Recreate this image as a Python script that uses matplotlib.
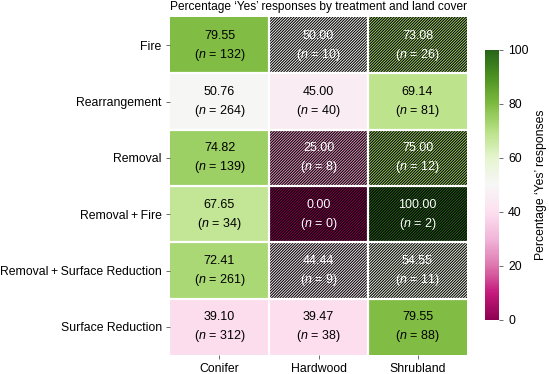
import numpy as np
import matplotlib
matplotlib.use("Agg")
import matplotlib.pyplot as plt
from matplotlib.patches import Rectangle

plt.rcParams['font.family'] = ['Liberation Sans', 'DejaVu Sans']
plt.rcParams['mathtext.fontset'] = 'custom'
plt.rcParams['mathtext.it'] = 'Liberation Sans:italic'
plt.rcParams['mathtext.rm'] = 'Liberation Sans'
plt.rcParams['hatch.linewidth'] = 0.75

treatments = ["Fire", "Rearrangement", "Removal", "Removal\u2009+\u2009Fire",
              "Removal\u2009+\u2009Surface Reduction", "Surface Reduction"]
covers = ["Conifer", "Hardwood", "Shrubland"]
pct = [
    [79.55, 50.00, 73.08],
    [50.76, 45.00, 69.14],
    [74.82, 25.00, 75.00],
    [67.65, 0.00, 100.00],
    [72.41, 44.44, 54.55],
    [39.10, 39.47, 79.55],
]
counts = [
    [132, 10, 26],
    [264, 40, 81],
    [139, 8, 12],
    [34, 0, 2],
    [261, 9, 11],
    [312, 38, 88],
]
small_n = 30

V = np.array(pct)
N = np.array(counts)
nr, nc = V.shape

fig = plt.figure(figsize=(5.49, 3.74), dpi=100)
ax = fig.add_axes([170/549, 1-355/374, 297/549, 338/374])
cax = fig.add_axes([485/549, 1-320/374, 14/549, 270/374])

mesh = ax.pcolormesh(np.arange(nc+1), np.arange(nr+1), V, cmap='PiYG', vmin=0, vmax=100)
ax.set_xlim(0, nc)
ax.set_ylim(nr, 0)

for i in range(nr):
    for j in range(nc):
        hatched = N[i, j] < small_n
        if hatched:
            ax.add_patch(Rectangle((j, i), 1, 1, facecolor='none', edgecolor='black',
                                   hatch='/' * 12, linewidth=0, zorder=2))
        col = 'white' if hatched else 'black'
        ax.text(j + 0.5, i + 0.5 - 0.17, f"{V[i, j]:.2f}", ha='center', va='center',
                fontsize=9, color=col, zorder=4)
        ax.text(j + 0.5, i + 0.5 + 0.17, r"($\it{n}$ = %d)" % N[i, j], ha='center', va='center',
                fontsize=9, color=col, zorder=4)

for k in range(1, nr):
    ax.axhline(k, color='white', lw=1.6, zorder=3)
for k in range(1, nc):
    ax.axvline(k, color='white', lw=1.6, zorder=3)

ax.set_xticks(np.arange(nc) + 0.5)
ax.set_xticklabels(covers, fontsize=8.8)
ax.set_yticks(np.arange(nr) + 0.5)
ax.set_yticklabels(treatments, fontsize=8.8)
ax.tick_params(length=3, width=0.6, color='#555555', pad=3)
for s in ax.spines.values():
    s.set_visible(False)
ax.set_title("Percentage \u2018Yes\u2019 responses by treatment and land cover", fontsize=8.6, pad=5)

cb = fig.colorbar(mesh, cax=cax)
cb.outline.set_visible(False)
cb.set_ticks([0, 20, 40, 60, 80, 100])
cb.ax.tick_params(labelsize=8.8, length=3, width=0.6, color='#555555')
cb.set_label("Percentage \u2018Yes\u2019 responses", fontsize=8.8, labelpad=5)

fig.savefig("out.png", dpi=100)
